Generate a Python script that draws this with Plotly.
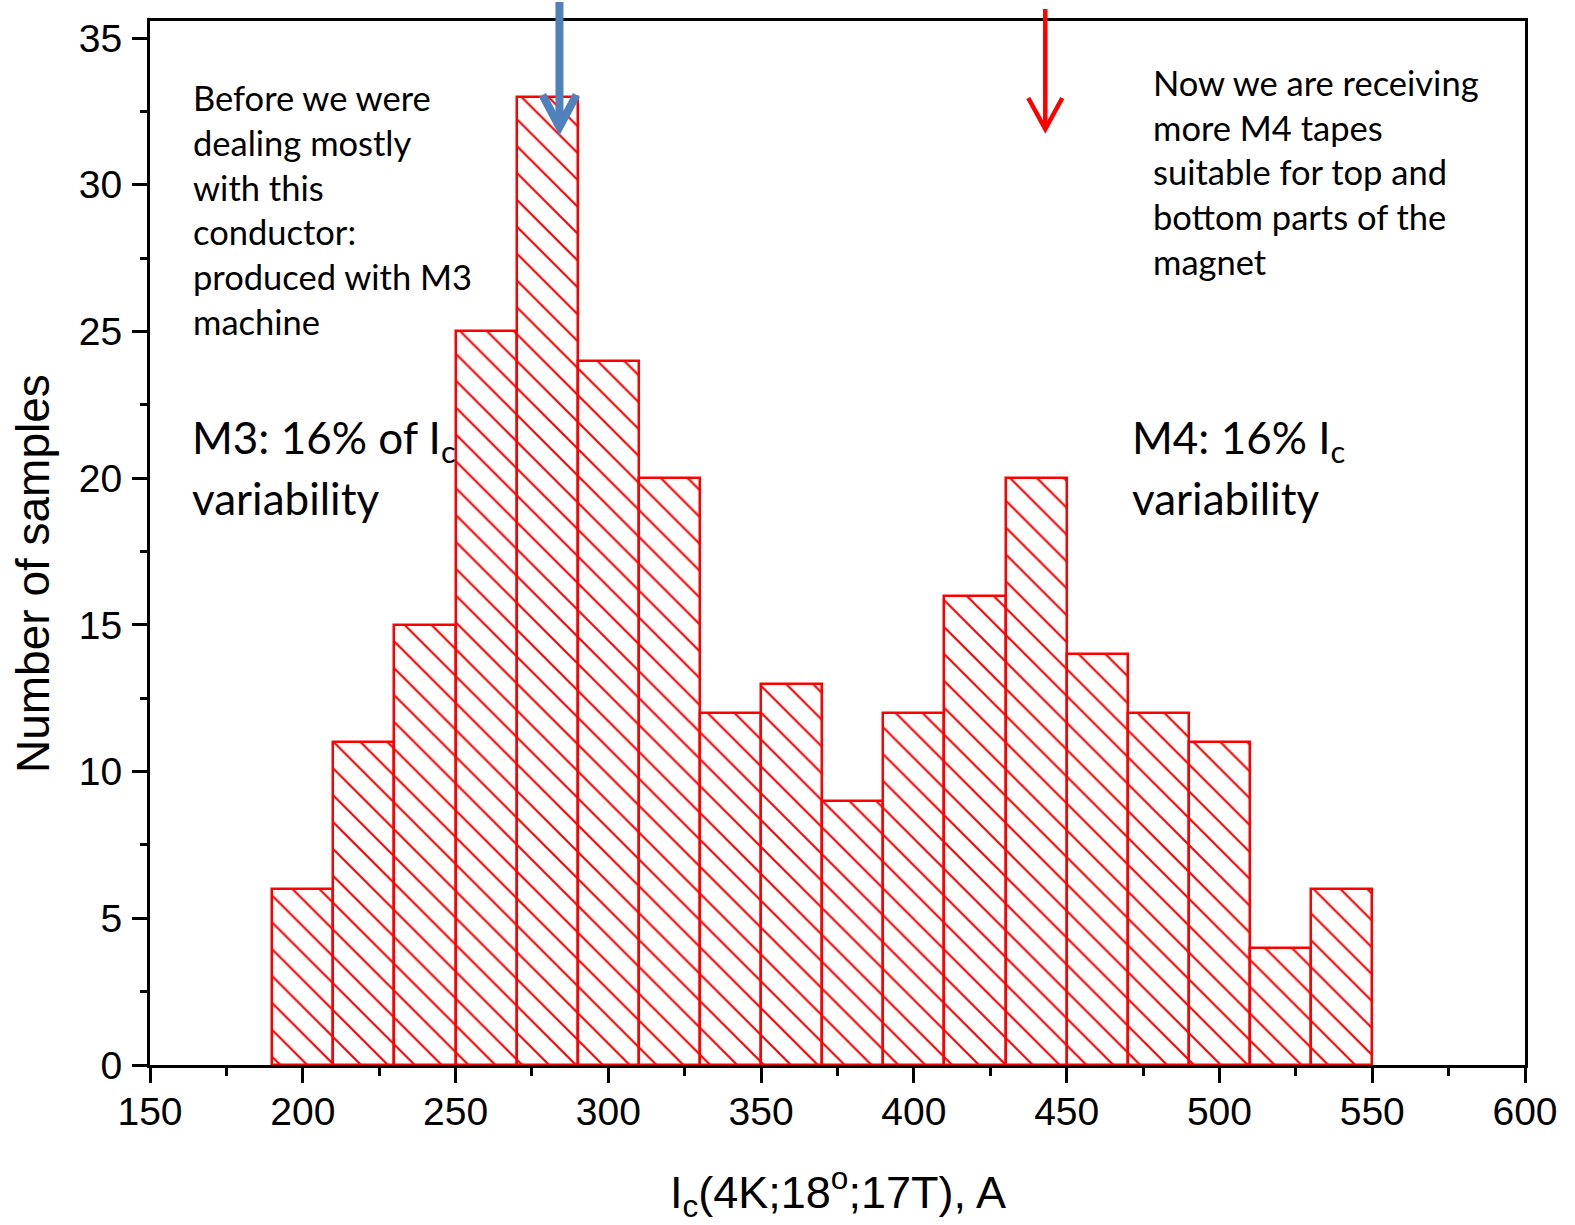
import plotly.graph_objects as go

# ---- data ----
bin_centers = [200, 220, 240, 260, 280, 300, 320, 340, 360, 380, 400, 420, 440, 460, 480, 500, 520, 540]
counts = [6, 11, 15, 25, 33, 24, 20, 12, 13, 9, 12, 16, 20, 14, 12, 11, 4, 6]
bin_width = 20

x_tick_vals = [150, 200, 250, 300, 350, 400, 450, 500, 550, 600]
y_tick_vals = [0, 5, 10, 15, 20, 25, 30, 35]

note_m3_lines = ["Before we were", "dealing mostly", "with this", "conductor:",
                 "produced with M3", "machine"]
note_m4_lines = ["Now we are receiving", "more M4 tapes", "suitable for top and",
                 "bottom parts of the", "magnet"]
var_m3_lines = ["M3: 16% of I<sub>c</sub>", "variability"]
var_m4_lines = ["M4: 16% I<sub>c</sub>", "variability"]

arrow_m3_x = 284   # Ic value of blue arrow
arrow_m4_x = 443   # Ic value of red arrow

# ---- layout geometry (pixels) ----
W, H = 1575, 1225
L, R, T, B = 150, 1525, 21, 1065
XR = [150, 600]
YR = [0, 35.58]


def px(xp):
    return (xp - L) / (R - L)


def py(yp):
    return (B - yp) / (B - T)


def dx(pix):
    return pix * (XR[1] - XR[0]) / (R - L)


fig = go.Figure()
fig.add_trace(go.Bar(
    x=bin_centers, y=counts, width=bin_width,
    marker=dict(
        color="white",
        line=dict(color="red", width=2.5),
        pattern=dict(shape="\\", fgcolor="red", bgcolor="white",
                     size=19, solidity=0.11, fillmode="replace"),
    ),
    showlegend=False,
))

axis_font = dict(family="Liberation Sans, Arial", size=39, color="black")

fig.update_layout(
    width=W, height=H,
    margin=dict(l=L, r=W - R, t=T, b=H - B, pad=0),
    paper_bgcolor="white", plot_bgcolor="white",
    bargap=0,
    xaxis=dict(
        range=XR, tickvals=x_tick_vals, ticks="outside", ticklen=15, tickwidth=2.5,
        tickcolor="black", showline=True, linewidth=3, linecolor="black", mirror=True,
        showgrid=False, zeroline=False, tickfont=axis_font, ticklabelstandoff=-5,
        minor=dict(dtick=25, tick0=150, ticks="outside", ticklen=8, tickwidth=2.5,
                   tickcolor="black", showgrid=False),
    ),
    yaxis=dict(
        range=YR, tickvals=y_tick_vals, ticks="outside", ticklen=15, tickwidth=2.5,
        tickcolor="black", showline=True, linewidth=3, linecolor="black", mirror=True,
        showgrid=False, zeroline=False, tickfont=axis_font, ticklabelstandoff=2,
        minor=dict(dtick=2.5, tick0=0, ticks="outside", ticklen=7, tickwidth=2.5,
                   tickcolor="black", showgrid=False),
    ),
)

ann = []
small_font = dict(family="Lato, Noto Sans", size=34.5, color="black")
big_font = dict(family="Lato, Noto Sans", size=44, color="black")

for i, t in enumerate(note_m3_lines):
    ann.append(dict(text=t, x=px(191), y=py(97.4 + i * 44.8), xref="paper", yref="paper",
                    xanchor="left", yanchor="middle", showarrow=False, font=small_font))
for i, t in enumerate(note_m4_lines):
    ann.append(dict(text=t, x=px(1151), y=py(82.4 + i * 44.7), xref="paper", yref="paper",
                    xanchor="left", yanchor="middle", showarrow=False, font=small_font))
for i, t in enumerate(var_m3_lines):
    ann.append(dict(text=t, x=px(190), y=py(441 + i * 57), xref="paper", yref="paper",
                    xanchor="left", yanchor="middle", showarrow=False, font=big_font))
for i, t in enumerate(var_m4_lines):
    ann.append(dict(text=t, x=px(1130), y=py(441 + i * 57), xref="paper", yref="paper",
                    xanchor="left", yanchor="middle", showarrow=False, font=big_font))

# axis titles
title_font = dict(family="Liberation Sans, Arial", size=46, color="black")
ann.append(dict(text="Number of samples", x=px(33), y=py(574), xref="paper", yref="paper",
                xanchor="center", yanchor="middle", textangle=-90, showarrow=False,
                font=title_font))
ann.append(dict(text="I<sub>c</sub>(4K;18<sup>o</sup>;17T), A", x=0.5, y=py(1192),
                xref="paper", yref="paper", xanchor="center", yanchor="middle",
                showarrow=False, font=dict(family="Liberation Sans, Arial", size=45, color="black")))
fig.update_layout(annotations=ann)

# arrows (shaft + chevron head)
shapes = []
for xv, col, w, top, tip, half, hlen in [
    (arrow_m3_x, "#4F81BD", 8, 2, 127, 17, 32),
    (arrow_m4_x, "red", 4.5, 9, 129, 17, 31),
]:
    shapes.append(dict(type="line", xref="x", yref="paper", x0=xv, x1=xv,
                       y0=py(top), y1=py(tip - 2), line=dict(color=col, width=w)))
    shapes.append(dict(type="path", xref="x", yref="paper",
                       path=f"M {xv - dx(half)},{py(tip - hlen)} L {xv},{py(tip)} L {xv + dx(half)},{py(tip - hlen)}",
                       line=dict(color=col, width=w)))
fig.update_layout(shapes=shapes)

fig.write_html("out.html")
